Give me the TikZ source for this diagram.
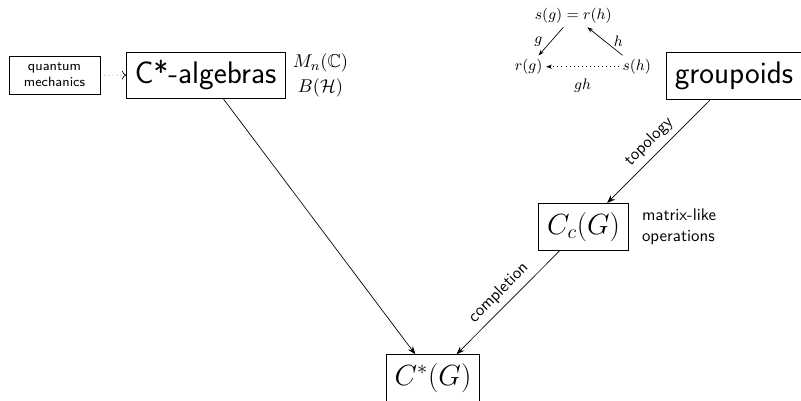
\documentclass[tikz,border=0pt]{standalone}
\usepackage{amssymb}
\usetikzlibrary{positioning,arrows.meta}
\begin{document}
\begin{tikzpicture}[every node/.style={font=\sffamily}, >=Stealth,
    bigbox/.style={draw, inner sep=5pt, minimum height=0.97cm, font=\sffamily\fontsize{18.5}{22}\selectfont},
    tri/.style={font=\small, inner sep=2pt}]
    \useasboundingbox (0,0) rectangle (16.6875,8.3333);

    % main boxes
    \node[draw, font=\sffamily\footnotesize, align=center, minimum width=1.9cm, minimum height=0.79cm] (qm) at (1.135,6.77) {quantum\\mechanics};
    \node[bigbox] (calg) at (4.285,6.765) {C*-algebras};
    \node[bigbox, anchor=west] (grp) at (13.875,6.75) {groupoids};
    \node[bigbox] (cc) at (12.158,3.61) {$C_c(G)$};
    \node[bigbox] (cstar) at (9.021,0.46) {$C^*(G)$};

    % side texts
    \node[right=1pt of calg, align=center, font=\fontsize{11}{13.6}\selectfont] (mats) {$M_n(\mathbb{C})$\\[1pt]$B(\mathcal{H})$};
    \node[right=0.15cm of cc, align=left] (ops) {matrix-like\\operations};

    % arrows between boxes
    \draw[dotted, -{To}] (qm) -- (calg);
    \draw[->] (calg) -- (cstar);
    \draw[->] (grp) -- node[midway, sloped, above] {topology} (cc);
    \draw[->] (cc) -- node[midway, sloped, above] {completion} (cstar);

    % composition triangle
    \node[tri] (sgrh) at (11.944,8.0) {$s(g) = r(h)$};
    \node[tri] (rg) at (11.015,6.944) {$r(g)$};
    \node[tri] (sh) at (13.265,6.944) {$s(h)$};
    \draw[-{Stealth[scale=0.7]}] (sgrh) -- node[tri, midway, left=3pt] {$g$} (rg);
    \draw[-{Stealth[scale=0.7]}] (sh) -- node[tri, midway, right=3pt] {$h$} (sgrh);
    \draw[dotted, -{Stealth[scale=0.7]}] (sh) -- node[tri, midway, below=5pt] {$gh$} (rg);

\end{tikzpicture}
\end{document}
